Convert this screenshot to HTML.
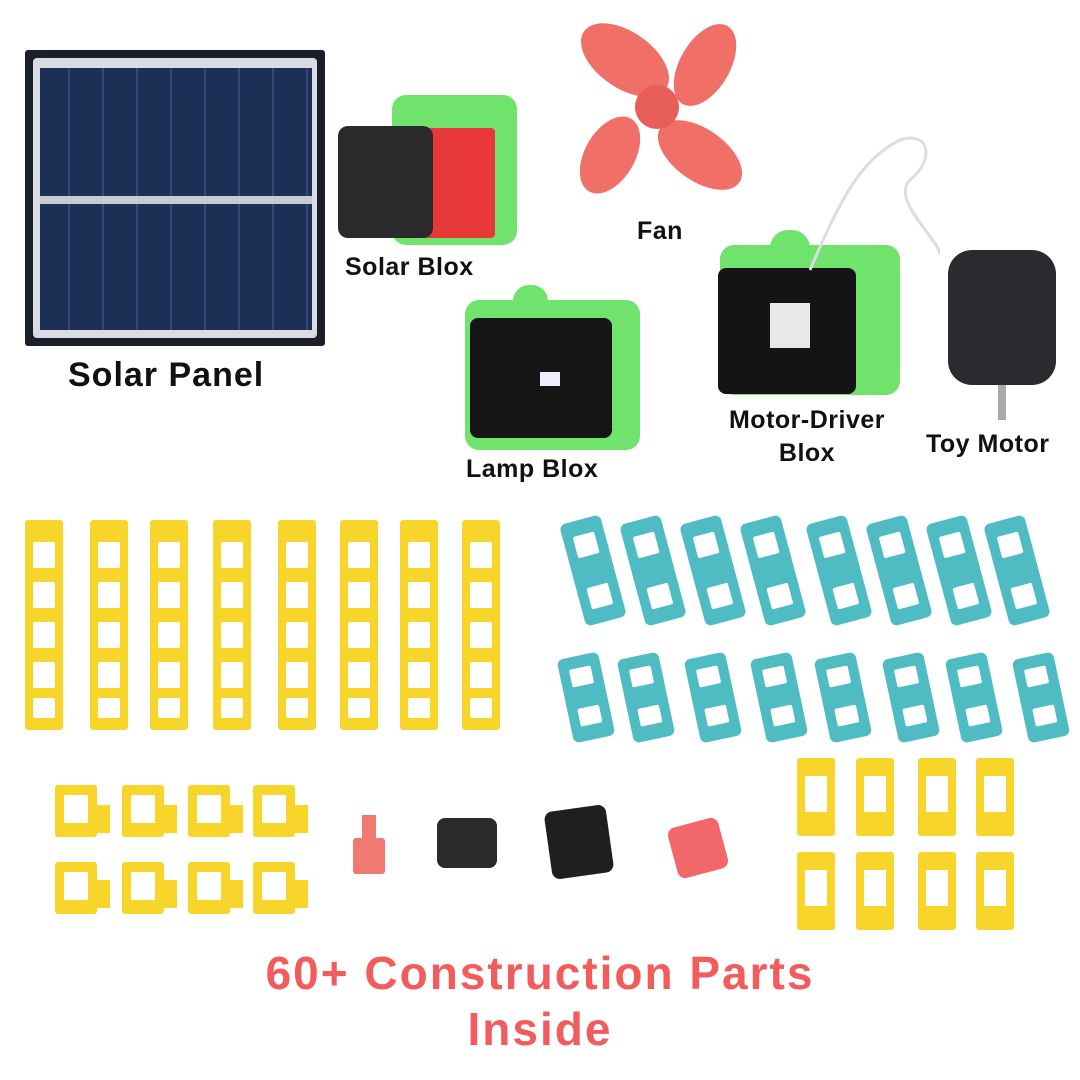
<!DOCTYPE html>
<html><head><meta charset="utf-8"><style>
body{margin:0;width:1080px;height:1080px;background:#fff;position:relative;overflow:hidden;font-family:"Liberation Sans",sans-serif}
.a{position:absolute}
.lbl{position:absolute;font-weight:bold;color:#111;white-space:nowrap;letter-spacing:0.5px}
.ys{position:absolute;width:38px;height:210px;background:#f7d52a;border-radius:3px}
.ys i{position:absolute;left:8px;width:22px;height:26px;background:#fff;border-radius:2px}
.tq{position:absolute;width:42px;height:105px;background:#4fbcc3;border-radius:6px}
.tq i{position:absolute;left:10px;width:22px;height:22px;background:#fff;border-radius:2px}
.yb{position:absolute;width:42px;height:52px;background:#f7d52a;border-radius:3px}
.yb i{position:absolute;left:9px;top:10px;width:24px;height:28px;background:#fff}
.yt{position:absolute;width:38px;height:78px;background:#f7d52a;border-radius:3px}
.yt i{position:absolute;left:8px;top:18px;width:22px;height:36px;background:#fff}
.red{position:absolute;width:1080px;text-align:center;color:#f25c5c;font-weight:bold;font-size:46px;letter-spacing:2px}
</style></head><body>
<div class="a" style="left:25px;top:50px;width:300px;height:296px;background:#1b1f2c;border-radius:3px"></div>
<div class="a" style="left:33px;top:58px;width:284px;height:280px;background:#d9dde3;border-radius:4px"></div>
<div class="a" style="left:40px;top:68px;width:272px;height:262px;background:repeating-linear-gradient(90deg,#1e2f55 0 28px,#34497a 28px 30px,#1e2f55 30px 34px)"></div>
<div class="a" style="left:40px;top:196px;width:272px;height:8px;background:#c8ccd2"></div>
<div class="lbl" style="left:68px;top:356px;font-size:34px;letter-spacing:1px">Solar Panel</div>
<div class="a" style="left:392px;top:95px;width:125px;height:150px;background:#6fe36b;border-radius:14px"></div>
<div class="a" style="left:420px;top:128px;width:75px;height:110px;background:#e8383a;border-radius:4px"></div>
<div class="a" style="left:338px;top:126px;width:95px;height:112px;background:#2a2a2d;border-radius:10px"></div>
<div class="lbl" style="left:345px;top:253px;font-size:25px">Solar Blox</div>
<svg class="a" style="left:565px;top:15px" width="185" height="190"><g fill="#f07068"><ellipse cx="60" cy="45" rx="50" ry="28" transform="rotate(35 60 45)"/><ellipse cx="140" cy="50" rx="25" ry="45" transform="rotate(30 140 50)"/><ellipse cx="45" cy="140" rx="25" ry="42" transform="rotate(30 45 140)"/><ellipse cx="135" cy="140" rx="48" ry="26" transform="rotate(35 135 140)"/><circle cx="92" cy="92" r="22" fill="#e85f58"/></g></svg>
<div class="lbl" style="left:637px;top:217px;font-size:25px">Fan</div>
<div class="a" style="left:465px;top:300px;width:175px;height:150px;background:#6fe36b;border-radius:14px"></div>
<div class="a" style="left:513px;top:285px;width:35px;height:28px;background:#6fe36b;border-radius:16px 16px 0 0"></div>
<div class="a" style="left:470px;top:318px;width:142px;height:120px;background:#151515;border-radius:8px"></div>
<div class="a" style="left:540px;top:372px;width:20px;height:14px;background:#eef"></div>
<div class="lbl" style="left:466px;top:455px;font-size:25px">Lamp Blox</div>
<div class="a" style="left:720px;top:245px;width:180px;height:150px;background:#6fe36b;border-radius:14px"></div>
<div class="a" style="left:770px;top:230px;width:40px;height:25px;background:#6fe36b;border-radius:18px 18px 0 0"></div>
<div class="a" style="left:718px;top:268px;width:138px;height:126px;background:#141414;border-radius:8px"></div>
<div class="a" style="left:770px;top:303px;width:40px;height:45px;background:#e8e8e8"></div>
<div class="lbl" style="left:714px;top:404px;font-size:25px;text-align:center;width:186px;line-height:33px">Motor-Driver<br>Blox</div>
<svg class="a" style="left:800px;top:120px" width="140" height="160"><path d="M10 150 C40 80 60 40 100 20 C130 10 135 40 110 60 C90 80 140 120 140 135" stroke="#ddd" stroke-width="3" fill="none"/></svg>
<div class="a" style="left:948px;top:250px;width:108px;height:135px;background:#2b2b2f;border-radius:24px"></div>
<div class="a" style="left:998px;top:385px;width:8px;height:35px;background:#aaa"></div>
<div class="lbl" style="left:926px;top:430px;font-size:25px">Toy Motor</div>
<div class="ys" style="left:25px;top:520px"><i style="top:22px"></i><i style="top:62px"></i><i style="top:102px"></i><i style="top:142px"></i><i style="top:178px;height:20px"></i></div>
<div class="ys" style="left:90px;top:520px"><i style="top:22px"></i><i style="top:62px"></i><i style="top:102px"></i><i style="top:142px"></i><i style="top:178px;height:20px"></i></div>
<div class="ys" style="left:150px;top:520px"><i style="top:22px"></i><i style="top:62px"></i><i style="top:102px"></i><i style="top:142px"></i><i style="top:178px;height:20px"></i></div>
<div class="ys" style="left:213px;top:520px"><i style="top:22px"></i><i style="top:62px"></i><i style="top:102px"></i><i style="top:142px"></i><i style="top:178px;height:20px"></i></div>
<div class="ys" style="left:278px;top:520px"><i style="top:22px"></i><i style="top:62px"></i><i style="top:102px"></i><i style="top:142px"></i><i style="top:178px;height:20px"></i></div>
<div class="ys" style="left:340px;top:520px"><i style="top:22px"></i><i style="top:62px"></i><i style="top:102px"></i><i style="top:142px"></i><i style="top:178px;height:20px"></i></div>
<div class="ys" style="left:400px;top:520px"><i style="top:22px"></i><i style="top:62px"></i><i style="top:102px"></i><i style="top:142px"></i><i style="top:178px;height:20px"></i></div>
<div class="ys" style="left:462px;top:520px"><i style="top:22px"></i><i style="top:62px"></i><i style="top:102px"></i><i style="top:142px"></i><i style="top:178px;height:20px"></i></div>
<div class="tq" style="left:572px;top:518px;transform:rotate(-15deg)"><i style="top:15px"></i><i style="top:68px"></i></div>
<div class="tq" style="left:632px;top:518px;transform:rotate(-15deg)"><i style="top:15px"></i><i style="top:68px"></i></div>
<div class="tq" style="left:692px;top:518px;transform:rotate(-15deg)"><i style="top:15px"></i><i style="top:68px"></i></div>
<div class="tq" style="left:752px;top:518px;transform:rotate(-15deg)"><i style="top:15px"></i><i style="top:68px"></i></div>
<div class="tq" style="left:818px;top:518px;transform:rotate(-15deg)"><i style="top:15px"></i><i style="top:68px"></i></div>
<div class="tq" style="left:878px;top:518px;transform:rotate(-15deg)"><i style="top:15px"></i><i style="top:68px"></i></div>
<div class="tq" style="left:938px;top:518px;transform:rotate(-15deg)"><i style="top:15px"></i><i style="top:68px"></i></div>
<div class="tq" style="left:996px;top:518px;transform:rotate(-15deg)"><i style="top:15px"></i><i style="top:68px"></i></div>
<div class="tq" style="left:565px;top:655px;height:85px;transform:rotate(-12deg)"><i style="top:12px;height:18px"></i><i style="top:52px;height:18px"></i></div>
<div class="tq" style="left:625px;top:655px;height:85px;transform:rotate(-12deg)"><i style="top:12px;height:18px"></i><i style="top:52px;height:18px"></i></div>
<div class="tq" style="left:692px;top:655px;height:85px;transform:rotate(-12deg)"><i style="top:12px;height:18px"></i><i style="top:52px;height:18px"></i></div>
<div class="tq" style="left:758px;top:655px;height:85px;transform:rotate(-12deg)"><i style="top:12px;height:18px"></i><i style="top:52px;height:18px"></i></div>
<div class="tq" style="left:822px;top:655px;height:85px;transform:rotate(-12deg)"><i style="top:12px;height:18px"></i><i style="top:52px;height:18px"></i></div>
<div class="tq" style="left:890px;top:655px;height:85px;transform:rotate(-12deg)"><i style="top:12px;height:18px"></i><i style="top:52px;height:18px"></i></div>
<div class="tq" style="left:953px;top:655px;height:85px;transform:rotate(-12deg)"><i style="top:12px;height:18px"></i><i style="top:52px;height:18px"></i></div>
<div class="tq" style="left:1020px;top:655px;height:85px;transform:rotate(-12deg)"><i style="top:12px;height:18px"></i><i style="top:52px;height:18px"></i></div>
<div class="yb" style="left:55px;top:785px"><i></i></div><div class="a" style="left:95px;top:805px;width:15px;height:28px;background:#f7d52a"></div>
<div class="yb" style="left:122px;top:785px"><i></i></div><div class="a" style="left:162px;top:805px;width:15px;height:28px;background:#f7d52a"></div>
<div class="yb" style="left:188px;top:785px"><i></i></div><div class="a" style="left:228px;top:805px;width:15px;height:28px;background:#f7d52a"></div>
<div class="yb" style="left:253px;top:785px"><i></i></div><div class="a" style="left:293px;top:805px;width:15px;height:28px;background:#f7d52a"></div>
<div class="yb" style="left:55px;top:862px"><i></i></div><div class="a" style="left:95px;top:880px;width:15px;height:28px;background:#f7d52a"></div>
<div class="yb" style="left:122px;top:862px"><i></i></div><div class="a" style="left:162px;top:880px;width:15px;height:28px;background:#f7d52a"></div>
<div class="yb" style="left:188px;top:862px"><i></i></div><div class="a" style="left:228px;top:880px;width:15px;height:28px;background:#f7d52a"></div>
<div class="yb" style="left:253px;top:862px"><i></i></div><div class="a" style="left:293px;top:880px;width:15px;height:28px;background:#f7d52a"></div>
<div class="a" style="left:353px;top:838px;width:32px;height:36px;background:#f07a72;border-radius:3px"></div>
<div class="a" style="left:362px;top:815px;width:14px;height:25px;background:#f07a72"></div>
<div class="a" style="left:437px;top:818px;width:60px;height:50px;background:#2a2a2d;border-radius:8px"></div>
<div class="a" style="left:548px;top:808px;width:62px;height:68px;background:#1f1f22;border-radius:8px;transform:rotate(-8deg)"></div>
<div class="a" style="left:672px;top:822px;width:52px;height:52px;background:#f2686a;border-radius:8px;transform:rotate(-15deg)"></div>
<div class="yt" style="left:797px;top:758px"><i></i></div>
<div class="yt" style="left:856px;top:758px"><i></i></div>
<div class="yt" style="left:918px;top:758px"><i></i></div>
<div class="yt" style="left:976px;top:758px"><i></i></div>
<div class="yt" style="left:797px;top:852px"><i></i></div>
<div class="yt" style="left:856px;top:852px"><i></i></div>
<div class="yt" style="left:918px;top:852px"><i></i></div>
<div class="yt" style="left:976px;top:852px"><i></i></div>
<div class="red" style="top:946px">60+ Construction Parts</div>
<div class="red" style="top:1002px">Inside</div>
</body></html>
